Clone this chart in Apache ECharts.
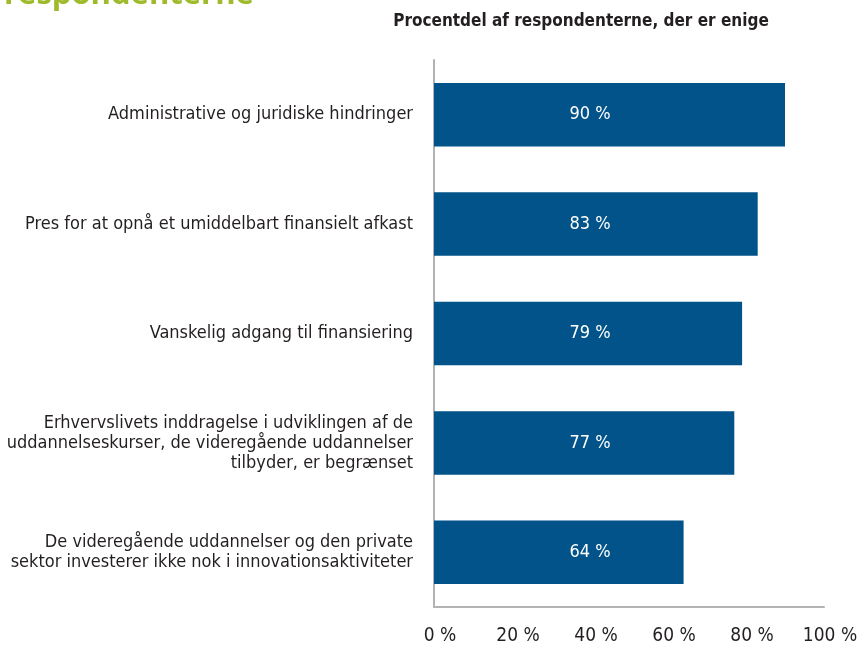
<!DOCTYPE html>
<html><head><meta charset="utf-8">
<script src="https://cdn.jsdelivr.net/npm/echarts@6/dist/echarts.min.js"></script>
<style>html,body{margin:0;padding:0;background:#fff}#c{width:862px;height:648px}</style>
</head><body><div id="c"></div>
<script>
var categories = [
  'Administrative og juridiske hindringer',
  'Pres for at opnå et umiddelbart finansielt afkast',
  'Vanskelig adgang til finansiering',
  'Erhvervslivets inddragelse i udviklingen af de\nuddannelseskurser, de videregående uddannelser\ntilbyder, er begrænset',
  'De videregående uddannelser og den private\nsektor investerer ikke nok i innovationsaktiviteter'
];
var values = [90, 83, 79, 77, 64];
var xTicks = [0, 20, 40, 60, 80, 100];
var chartTitle = 'Procentdel af respondenterne, der er enige';
var headerFragment = 'respondenterne';

var FONT = '"DejaVu Sans Condensed", sans-serif';
var chart = echarts.init(document.getElementById('c'));
chart.setOption({
  animation: false,
  backgroundColor: '#fff',
  graphic: [
    { type: 'text', left: 4, top: -20, style: { text: headerFragment, fill: '#9fbb2b', font: 'bold 31px "Open Sans", sans-serif' } },
    { type: 'text', x: 581, y: 13, style: { text: chartTitle, fill: '#231f20', font: 'bold 17px ' + FONT, align: 'center', verticalAlign: 'top' } }
  ],
  grid: { left: 434, right: 38, top: 60, bottom: 41, containLabel: false, outerBoundsMode: 'none' },
  xAxis: {
    type: 'value', min: 0, max: 100, interval: 20,
    axisLine: { show: true, lineStyle: { color: '#b3b3b3', width: 2 } },
    axisTick: { show: false },
    splitLine: { show: false },
    axisLabel: { margin: 20, color: '#231f20', fontSize: 19, fontFamily: FONT, padding: [0, 0, 0, 12],
      formatter: function (v) { return xTicks.indexOf(v) >= 0 ? v + ' %' : ''; } }
  },
  yAxis: {
    type: 'category', data: categories, inverse: true,
    axisLine: { show: true, lineStyle: { color: '#b3b3b3', width: 2 } },
    axisTick: { show: false },
    axisLabel: { margin: 21, color: '#231f20', fontSize: 18, lineHeight: 20, fontFamily: FONT, align: 'right' }
  },
  series: [{
    type: 'bar', data: values, barCategoryGap: '42%',
    itemStyle: { color: '#02538a' },
    label: { show: true, position: [156, '50%'], align: 'center', verticalAlign: 'middle',
      color: '#fff', fontSize: 18, fontFamily: FONT, formatter: '{c} %' }
  }]
});
</script></body></html>
